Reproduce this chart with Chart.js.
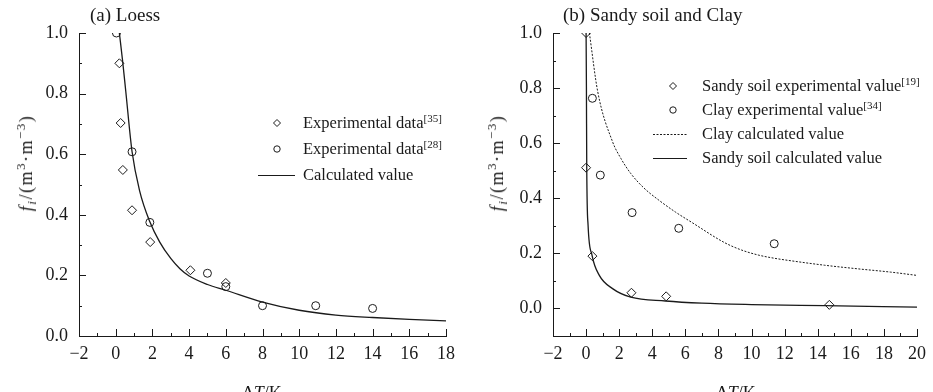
<!DOCTYPE html>
<html>
<head>
<meta charset="utf-8">
<script src="https://cdn.jsdelivr.net/npm/chart.js@4"></script>
<style>
  body { margin: 0; background: #fff; }
  #wrap { position: relative; width: 933px; height: 392px; overflow: hidden; }
  canvas { position: absolute; top: 0; }
  .lbl { position: absolute; font: 16.5px 'Liberation Serif', 'Times New Roman', serif; color: #1a1a1a; white-space: nowrap; line-height: 18px; }
  .lbl sup { font-size: 11px; position: relative; top: -6px; vertical-align: baseline; }
  .ttl { font-size: 19px; line-height: 20px; }
  .ytl { font-size: 18px; line-height: 20px; letter-spacing: 1.5px; transform: translate(-50%, -50%) rotate(-90deg); }
  .ytl sup { font-size: 13px; top: -7px; }
  .ytl sub { font-size: 13px; position: relative; top: 4px; vertical-align: baseline; }
  .xtl { font-size: 18px; line-height: 20px; transform: translateX(-50%); }
  svg { position: absolute; left: 0; top: 0; pointer-events: none; }
</style>
</head>
<body>
<div id="wrap">
  <canvas id="chartA" width="466" height="392" style="left:0"></canvas>
  <canvas id="chartB" width="467" height="392" style="left:466px"></canvas>

  <div class="lbl ttl" style="left:90px;top:5px">(a) Loess</div>
  <div class="lbl ttl" style="left:563px;top:5px">(b) Sandy soil and Clay</div>

  <div class="lbl ytl" style="left:27px;top:163px"><i>f</i><sub><i>i</i></sub>/(m<sup>3</sup>·m<sup>−3</sup>)</div>
  <div class="lbl ytl" style="left:498px;top:163px"><i>f</i><sub><i>i</i></sub>/(m<sup>3</sup>·m<sup>−3</sup>)</div>
  <div class="lbl xtl" style="left:262px;top:383px">Δ<i>T</i>/K</div>
  <div class="lbl xtl" style="left:736px;top:383px">Δ<i>T</i>/K</div>

  <!-- legenda (a) -->
  <div class="lbl" style="left:303px;top:114px">Experimental data<sup>[35]</sup></div>
  <div class="lbl" style="left:303px;top:140px">Experimental data<sup>[28]</sup></div>
  <div class="lbl" style="left:303px;top:166px">Calculated value</div>
  <!-- legenda (b) -->
  <div class="lbl" style="left:702px;top:77px">Sandy soil experimental value<sup>[19]</sup></div>
  <div class="lbl" style="left:702px;top:101px">Clay experimental value<sup>[34]</sup></div>
  <div class="lbl" style="left:702px;top:125px">Clay calculated value</div>
  <div class="lbl" style="left:702px;top:149px">Sandy soil calculated value</div>

  <svg width="933" height="392">
    <g fill="none" stroke="#1a1a1a" stroke-width="1">
      <polygon points="277,119.5 280.5,123 277,126.5 273.5,123"/>
      <circle cx="277" cy="149" r="3.2"/>
      <line x1="258" y1="175.5" x2="295" y2="175.5" stroke-width="1.2"/>
      <polygon points="673,82.5 676.5,86 673,89.5 669.5,86"/>
      <circle cx="673" cy="110" r="3.2"/>
      <line x1="653" y1="134.5" x2="687" y2="134.5" stroke-dasharray="2,1.5"/>
      <line x1="653" y1="158.5" x2="687" y2="158.5" stroke-width="1.2"/>
    </g>
  </svg>
</div>

<script>
// (a) Loess
const loessDiamX = [0.2, 0.27, 0.39, 0.89, 1.88, 4.07, 6.0]
const loessDiamY = [0.90, 0.703, 0.548, 0.415, 0.31, 0.217, 0.175]
const loessCircX = [0.04, 0.89, 1.86, 5.0, 6.0, 8.0, 10.9, 14.0]
const loessCircY = [1.0, 0.608, 0.375, 0.207, 0.163, 0.10, 0.10, 0.091]
const loessCalcX = [0.2, 0.38, 0.55, 0.89, 1.3, 1.86, 2.4, 3.0, 3.5, 4, 5, 6, 8, 10, 12, 14, 16, 18]
const loessCalcY = [1.0, 0.906, 0.807, 0.609, 0.48, 0.377, 0.31, 0.256, 0.222, 0.198, 0.17, 0.151, 0.112, 0.085, 0.069, 0.061, 0.055, 0.05]
const xTicksA = [-2, 0, 2, 4, 6, 8, 10, 12, 14, 16, 18]

// (b) Sandy soil and Clay
const sandyExpX = [0, 0, 0.38, 2.74, 4.84, 14.7]
const sandyExpY = [1.0, 0.511, 0.19, 0.057, 0.044, 0.013]
const clayExpX = [0.38, 0.86, 2.78, 5.6, 11.37]
const clayExpY = [0.763, 0.484, 0.348, 0.291, 0.235]
const clayCalcX = [0.2, 0.7, 1.6, 2.1, 2.7, 3.5, 4.4, 5.4, 6.4, 8.4, 9.4, 10.4, 11.4, 12.4, 14.4, 16.4, 18.4, 20]
const clayCalcY = [1.0, 0.788, 0.605, 0.545, 0.49, 0.437, 0.393, 0.35, 0.312, 0.238, 0.212, 0.194, 0.182, 0.173, 0.157, 0.144, 0.132, 0.12]
const sandyCalcX = [0, 0.02, 0.04, 0.12, 0.36, 0.8, 1.6, 2.7, 4.8, 7, 10, 14.4, 20]
const sandyCalcY = [1.0, 0.8, 0.508, 0.302, 0.193, 0.12, 0.072, 0.041, 0.027, 0.019, 0.014, 0.010, 0.005]
const xTicksB = [-2, 0, 2, 4, 6, 8, 10, 12, 14, 16, 18, 20]

const yTicks = [0, 0.2, 0.4, 0.6, 0.8, 1.0]

const ink = '#1a1a1a'
const serif = "'Liberation Serif', 'Times New Roman', serif"

function pares(xs, ys) {
    return xs.map((x, i) => ({ x: x, y: ys[i] }))
}

function puntos(xs, ys, estilo, radio) {
    return {
        data: pares(xs, ys),
        pointStyle: estilo,
        pointRadius: radio,
        pointBorderColor: ink,
        pointBorderWidth: 1,
        pointBackgroundColor: 'rgba(0,0,0,0)',
        showLine: false,
        clip: 0
    }
}

function curva(xs, ys, guiones) {
    return {
        data: pares(xs, ys),
        showLine: true,
        pointRadius: 0,
        borderColor: ink,
        borderWidth: guiones ? 1 : 1.3,
        borderDash: guiones ? [2, 1.5] : [],
        cubicInterpolationMode: 'monotone',
        clip: 0
    }
}

// ticks hacia adentro, mayores y menores
const ticksAdentro = {
    id: 'ticksAdentro',
    afterDraw(chart) {
        const ctx = chart.ctx
        const a = chart.chartArea
        const sx = chart.scales.x
        const sy = chart.scales.y
        const vx = sx.ticks.map(t => t.value)
        const vy = sy.ticks.map(t => t.value)
        ctx.save()
        ctx.strokeStyle = ink
        ctx.lineWidth = 1
        ctx.beginPath()
        vx.forEach((v, i) => {
            const p = Math.round(sx.getPixelForValue(v)) + 0.5
            ctx.moveTo(p, a.bottom)
            ctx.lineTo(p, a.bottom - 7)
            if (i < vx.length - 1) {
                const m = Math.round(sx.getPixelForValue((v + vx[i + 1]) / 2)) + 0.5
                ctx.moveTo(m, a.bottom)
                ctx.lineTo(m, a.bottom - 3)
            }
        })
        vy.forEach((v, i) => {
            const p = Math.round(sy.getPixelForValue(v)) + 0.5
            ctx.moveTo(a.left, p)
            ctx.lineTo(a.left + 7, p)
            if (i < vy.length - 1) {
                const m = Math.round(sy.getPixelForValue((v + vy[i + 1]) / 2)) + 0.5
                ctx.moveTo(a.left, m)
                ctx.lineTo(a.left + 3, m)
            }
        })
        ctx.stroke()
        ctx.restore()
    }
}

function crearGrafico(id, datasets, xMax, xTicks, yMin, anchoY, padDer) {
    new Chart(document.getElementById(id), {
        type: 'scatter',
        data: { datasets: datasets },
        options: {
            responsive: false,
            animation: false,
            devicePixelRatio: 1,
            events: [],
            layout: { padding: { top: 33, right: padDer, bottom: 0, left: 0 } },
            plugins: { legend: { display: false }, tooltip: { enabled: false } },
            scales: {
                x: {
                    type: 'linear',
                    min: -2,
                    max: xMax,
                    afterBuildTicks: s => { s.ticks = xTicks.map(v => ({ value: v })) },
                    afterFit: s => { s.height = 56 },
                    grid: { display: false, drawTicks: false },
                    border: { display: true, color: ink, width: 1 },
                    ticks: {
                        color: ink,
                        font: { family: serif, size: 18 },
                        padding: 7,
                        maxRotation: 0,
                        autoSkip: false,
                        callback: v => v < 0 ? '\u2212' + Math.abs(v) : String(v)
                    }
                },
                y: {
                    type: 'linear',
                    min: yMin,
                    max: 1.0,
                    afterBuildTicks: s => { s.ticks = yTicks.map(v => ({ value: v })) },
                    afterFit: s => { s.width = anchoY },
                    grid: { display: false, drawTicks: false },
                    border: { display: true, color: ink, width: 1 },
                    ticks: {
                        color: ink,
                        font: { family: serif, size: 18 },
                        padding: 11,
                        autoSkip: false,
                        callback: v => v.toFixed(1)
                    }
                }
            }
        },
        plugins: [ticksAdentro]
    })
}

crearGrafico('chartA', [
    curva(loessCalcX, loessCalcY, false),
    puntos(loessDiamX, loessDiamY, 'rectRot', 4.5),
    puntos(loessCircX, loessCircY, 'circle', 4)
], 18, xTicksA, 0, 79, 20)

crearGrafico('chartB', [
    curva(clayCalcX, clayCalcY, true),
    curva(sandyCalcX, sandyCalcY, false),
    puntos(sandyExpX, sandyExpY, 'rectRot', 4.5),
    puntos(clayExpX, clayExpY, 'circle', 4)
], 20, xTicksB, -0.1, 87, 13)
</script>
</body>
</html>
